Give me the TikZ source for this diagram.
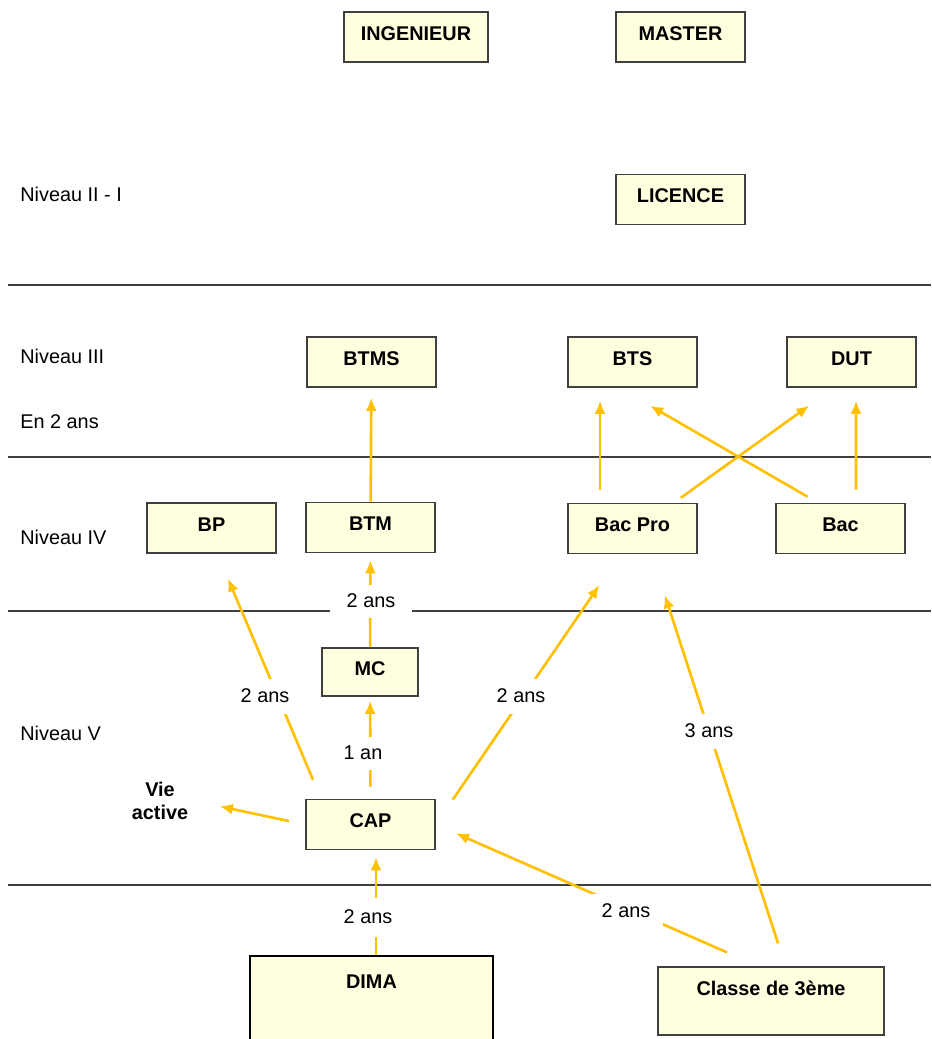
\documentclass[tikz,border=0pt]{standalone}
\usepackage{fontspec}
\setmainfont{Liberation Sans}
\usepackage{xcolor}
\usetikzlibrary{arrows.meta}
\definecolor{jaune}{HTML}{FFFFE0}
\definecolor{orfleche}{HTML}{FFC000}
\definecolor{trait}{HTML}{404040}
\newcommand{\taille}{\fontsize{11.3}{13.5}\selectfont}
\tikzset{
  boite/.style={draw=trait, fill=jaune, line width=0.9pt, inner sep=0pt, minimum width=2.58cm, text height=0.56cm, text depth=0.44cm, font=\taille\bfseries},
  fleche/.style={draw=orfleche, line width=1.5pt, -{Latex[length=0.26cm,width=0.22cm]}},
  duree/.style={fill=white, inner sep=0pt, minimum width=0.95cm, minimum height=0.7cm},
  niveau/.style={anchor=west, inner sep=0pt},
  separation/.style={draw=trait, line width=0.9pt}
}

\begin{document}
\begin{tikzpicture}[x=0.02cm, y=-0.02cm, font=\taille]
            \clip (0,0) rectangle (931,1039);
            \fill[white] (0,0) rectangle (931,1039);
            \draw[separation] (8,285) -- (931,285);
            \draw[separation] (8,457) -- (931,457);
            \draw[separation] (8,611) -- (931,611);
            \draw[separation] (8,885) -- (931,885);
            \node[niveau] (n1) at (20,194) {Niveau II - I};
            \node[niveau] (n3) at (20,356) {Niveau III};
            \node[niveau] (en2) at (20,422) {En 2 ans};
            \node[niveau] (n4) at (20,537) {Niveau IV};
            \node[niveau] (n5) at (20,733) {Niveau V};
            \node[boite, minimum width=2.88cm] (ing) at (416,37) {INGENIEUR};
            \node[boite] (master) at (680.5,37) {MASTER};
            \node[boite] (licence) at (680.5,199.5) {LICENCE};
            \node[boite] (btms) at (371.5,362) {BTMS};
            \node[boite] (bts) at (632.5,362) {BTS};
            \node[boite] (dut) at (851.5,362) {DUT};
            \node[boite] (bp) at (211.5,528) {BP};
            \node[boite] (btm) at (370.5,527.5) {BTM};
            \node[boite] (bacpro) at (632.5,528.5) {Bac Pro};
            \node[boite] (bac) at (840.5,528.5) {Bac};
            \node[boite, minimum width=1.92cm, text height=0.54cm, text depth=0.42cm] (mc) at (370,672) {MC};
            \node[boite] (cap) at (370.5,824.5) {CAP};
            \node[boite, draw=black, line width=1.3pt, minimum width=4.86cm, text height=0.64cm, text depth=1.36cm] (dima) at (371.5,1006) {DIMA};
            \node[boite, minimum width=4.52cm, text height=0.56cm, text depth=0.8cm] (classe) at (771,1001) {Classe de 3ème};
            \node[font=\taille\bfseries, align=center] (vie) at (160,801) {Vie\\active};
            \draw[fleche, shorten >=0.2cm] (btm) -- (btms);
            \draw[fleche, shorten <=0.26cm, shorten >=0.26cm] ([xshift=-0.65cm]bacpro.north) -- ([xshift=-0.65cm]bts.south);
            \draw[fleche, shorten <=0.26cm, shorten >=0.26cm] ([xshift=0.31cm]bac.north) -- ([xshift=0.09cm]dut.south);
            \draw[fleche, shorten <=0.17cm, shorten >=0.61cm] ([xshift=0.83cm]bacpro.north) -- ([xshift=-0.35cm]dut.south);
            \draw[fleche, shorten <=0.24cm, shorten >=0.72cm] ([xshift=-0.45cm]bac.north) -- ([xshift=-0.27cm]bts.south);
            \draw[fleche, shorten >=0.14cm] (mc) -- (btm);
            \draw[fleche, shorten <=0.24cm, shorten >=0.08cm] (cap) -- (mc);
            \draw[fleche, shorten <=0.41cm, shorten >=0.54cm] ([xshift=-0.99cm]cap.north) -- ([xshift=0.12cm]bp.south);
            \draw[fleche, shorten <=0.33cm, shorten >=0.52cm] (cap.west) -- (vie.east);
            \draw[fleche, shorten <=0.6cm, shorten >=0.75cm] (cap.east) -- ([xshift=-0.24cm]bacpro.south);
            \draw[fleche, shorten <=0.48cm, shorten >=0.86cm] ([xshift=0.29cm]classe.north) -- ([xshift=0.38cm]bacpro.south);
            \draw[fleche, shorten <=0.69cm, shorten >=0.44cm] ([xshift=-0.25cm]classe.north) -- (cap.east);
            \draw[fleche, shorten >=0.14cm] ([xshift=0.09cm]dima.north) -- ([xshift=0.11cm]cap.south);
            \node[duree, minimum width=1.64cm, minimum height=0.66cm] (d1) at (371,601) {2 ans};
            \node[duree, minimum height=0.66cm] (d2) at (363,753) {1 an};
            \node[duree] (d3) at (265,696) {2 ans};
            \node[duree] (d4) at (521,696) {2 ans};
            \node[duree] (d5) at (709,731) {3 ans};
            \node[duree, minimum width=1.5cm, minimum height=0.68cm] (d6) at (626,911) {2 ans};
            \node[duree, minimum height=0.78cm] (d7) at (368,917) {2 ans};
        \end{tikzpicture}
\end{document}
